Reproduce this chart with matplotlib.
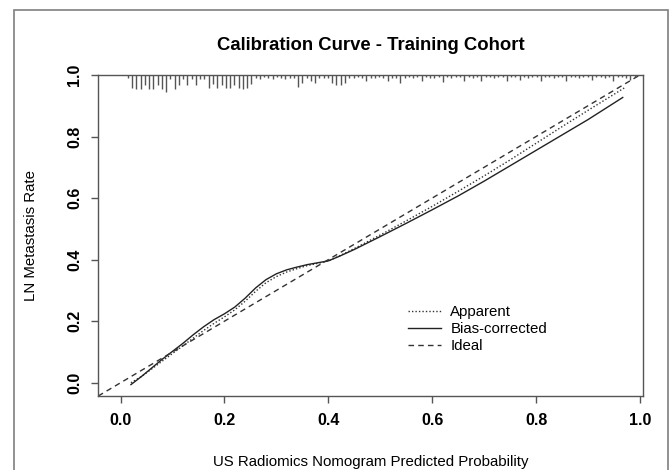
import numpy as np
import matplotlib
matplotlib.use("Agg")
from matplotlib import pyplot as plt
from matplotlib.patches import Rectangle

plt.rcParams['font.family'] = ['Liberation Sans', 'DejaVu Sans']

# apparent calibration curve (dotted)
app_x = [0.020, 0.040, 0.060, 0.080, 0.100, 0.120, 0.140, 0.160, 0.180, 0.200,
         0.220, 0.240, 0.260, 0.280, 0.300, 0.320, 0.340, 0.360, 0.380, 0.400,
         0.420, 0.450, 0.500, 0.550, 0.600, 0.650, 0.700, 0.750, 0.800, 0.850,
         0.900, 0.970]
app_y = [0.000, 0.020, 0.045, 0.070, 0.095, 0.120, 0.145, 0.170, 0.193, 0.214,
         0.237, 0.265, 0.297, 0.325, 0.345, 0.360, 0.371, 0.381, 0.388, 0.396,
         0.411, 0.436, 0.480, 0.526, 0.573, 0.622, 0.672, 0.724, 0.778, 0.832,
         0.885, 0.958]

# bias-corrected curve (solid)
bc_x = [0.020, 0.040, 0.060, 0.080, 0.100, 0.120, 0.140, 0.160, 0.180, 0.200,
        0.220, 0.240, 0.260, 0.280, 0.300, 0.320, 0.340, 0.360, 0.380, 0.400,
        0.420, 0.450, 0.500, 0.550, 0.600, 0.650, 0.700, 0.750, 0.800, 0.850,
        0.900, 0.967]
bc_y = [-0.006, 0.020, 0.048, 0.076, 0.102, 0.128, 0.156, 0.182, 0.205, 0.224,
        0.246, 0.275, 0.308, 0.335, 0.354, 0.367, 0.376, 0.384, 0.390, 0.396,
        0.410, 0.433, 0.475, 0.518, 0.562, 0.607, 0.655, 0.705, 0.755, 0.805,
        0.855, 0.927]

# rug of predicted probabilities along the top (tick length in pixels)
rug_start = 0.014
rug_step = 0.0082
rug_len = [3, 13, 14, 14, 10, 14, 14, 10, 14, 17,
           4, 14, 10, 4, 10, 4, 10, 4, 4, 13,
           9, 13, 10, 13, 13, 10, 13, 14, 13, 9,
           3, 4, 2, 3, 4, 2, 3, 4, 3, 3,
           12, 8, 3, 6, 8, 3, 3, 3, 8, 10,
           10, 8, 3, 3, 2, 3, 6, 3, 3, 2,
           3, 6, 3, 3, 8, 3, 2, 3, 2, 6,
           2, 3, 3, 2, 7, 2, 3, 2, 2, 6,
           2, 3, 2, 6, 2, 2, 3, 2, 2, 6,
           2, 2, 5, 2, 3, 2, 2, 6, 2, 2,
           3, 2, 2, 6, 2, 2, 3, 2, 2, 5,
           2, 2, 3, 2, 6, 2, 2, 3, 5, 2]

ticks = [0.0, 0.2, 0.4, 0.6, 0.8, 1.0]
tick_labels = ['0.0', '0.2', '0.4', '0.6', '0.8', '1.0']

fig = plt.figure(figsize=(6.69, 4.70), dpi=100)
ax = fig.add_axes([97.7 / 669, 74 / 470, (643 - 97.7) / 669, (396 - 75) / 470])

ax.plot(app_x, app_y, color='#333333', lw=1.0, ls=(0, (1, 1.5)), label='Apparent')
ax.plot(bc_x, bc_y, color='#222222', lw=1.0, ls='-', label='Bias-corrected')
ax.axline((0, 0), slope=1, color='#333333', lw=1.0, ls=(0, (4, 3)), label='Ideal')

# rug
ylo, yhi = -0.043, 1.0
px_per_unit = (396 - 75) / (yhi - ylo)
for i, L in enumerate(rug_len):
    xr = rug_start + i * rug_step
    ax.plot([xr, xr], [yhi, yhi - L / px_per_unit], color='#555555', lw=1.0,
            solid_capstyle='butt')

ax.set_xlim(-0.044, 1.006)
ax.set_ylim(ylo, yhi)

ax.set_xticks(ticks)
ax.set_xticklabels(tick_labels, fontweight='bold', fontsize=11.5)
ax.set_yticks(ticks)
ax.set_yticklabels(tick_labels, fontweight='bold', fontsize=11.5, rotation=90, va='center')
ax.tick_params(axis='x', direction='out', length=5, width=1, color='#555555', pad=7)
ax.tick_params(axis='y', direction='out', length=5, width=1, color='#555555', pad=6)
for s in ax.spines.values():
    s.set_color('#555555')
    s.set_linewidth(1.0)

ax.set_title('Calibration Curve - Training Cohort', fontweight='bold', fontsize=13.3, pad=18)
ax.set_xlabel('US Radiomics Nomogram Predicted Probability', fontsize=10.8, labelpad=20)
ax.set_ylabel('LN Metastasis Rate', fontsize=10.8, labelpad=21)

ax.legend(loc='upper left', bbox_to_anchor=(0.545, 0.325), frameon=False, fontsize=10.8,
          handlelength=2.2, handletextpad=0.6, labelspacing=0.2)

fig.patches.append(Rectangle((14 / 669, -0.01), (668 - 14) / 669, (460 / 470) + 0.01,
                             transform=fig.transFigure, fill=False,
                             edgecolor='#7f7f7f', lw=1.2))

fig.savefig('out.png', dpi=100)
